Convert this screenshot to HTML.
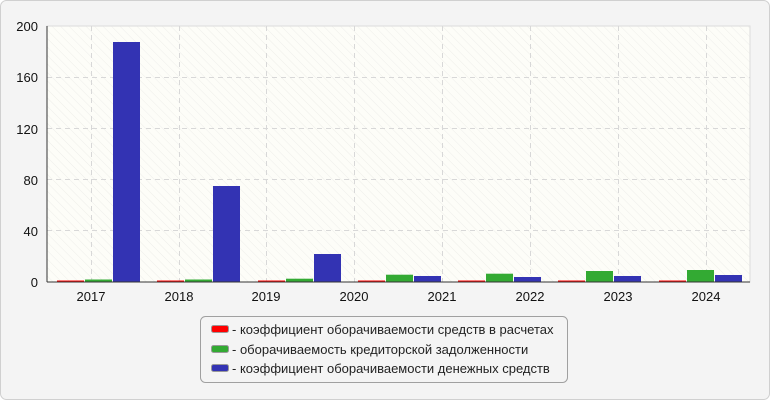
<!DOCTYPE html><html><head><meta charset="utf-8"><style>
body{margin:0;background:#fff}
</style></head><body>
<svg width="770" height="400" xmlns="http://www.w3.org/2000/svg" font-family="Liberation Sans, DejaVu Sans, sans-serif">
<defs><pattern id="h" width="6" height="6" patternUnits="userSpaceOnUse" patternTransform="rotate(-45)"><rect width="6" height="6" fill="#fdfdf8"/><line x1="0" y1="0" x2="0" y2="6" stroke="#eeeeea" stroke-width="1"/></pattern></defs>
<rect x="0.5" y="0.5" width="769" height="399" rx="6" fill="#f4f4f4" stroke="#d0d0d0"/>
<rect x="47" y="26" width="703" height="256" fill="url(#h)" stroke="#dcdcdc"/>
<g stroke="#d8d8d8" stroke-dasharray="5,4">
<line x1="47" x2="750" y1="77.5" y2="77.5"/><line x1="47" x2="750" y1="128.5" y2="128.5"/><line x1="47" x2="750" y1="179.5" y2="179.5"/><line x1="47" x2="750" y1="230.5" y2="230.5"/>
<line x1="91.5" x2="91.5" y1="26" y2="282"/><line x1="179.5" x2="179.5" y1="26" y2="282"/><line x1="266.5" x2="266.5" y1="26" y2="282"/><line x1="354.5" x2="354.5" y1="26" y2="282"/><line x1="442.5" x2="442.5" y1="26" y2="282"/><line x1="530.5" x2="530.5" y1="26" y2="282"/><line x1="618.5" x2="618.5" y1="26" y2="282"/><line x1="706.5" x2="706.5" y1="26" y2="282"/>
</g>
<g fill="#ff0000">
<rect x="57" y="280.5" width="27" height="1.5"/><rect x="157" y="280.5" width="27" height="1.5"/><rect x="258" y="280.5" width="27" height="1.5"/><rect x="358" y="280.5" width="27" height="1.5"/><rect x="458" y="280.5" width="27" height="1.5"/><rect x="558" y="280.5" width="27" height="1.5"/><rect x="659" y="280.5" width="27" height="1.5"/></g>
<g fill="#33aa33">
<rect x="85" y="279.5" width="27" height="2.5"/><rect x="185" y="279.5" width="27" height="2.5"/><rect x="286" y="278.7" width="27" height="3.3"/><rect x="386" y="274.7" width="27" height="7.3"/><rect x="486" y="273.7" width="27" height="8.3"/><rect x="586" y="271" width="27" height="11"/><rect x="687" y="270" width="27" height="12"/></g>
<g fill="#3333b3">
<rect x="113" y="42" width="27" height="240"/><rect x="213" y="186" width="27" height="96"/><rect x="314" y="254" width="27" height="28"/><rect x="414" y="276" width="27" height="6"/><rect x="514" y="277" width="27" height="5"/><rect x="614" y="276" width="27" height="6"/><rect x="715" y="275" width="27" height="7"/></g>
<line x1="47" x2="750" y1="282" y2="282" stroke="#333"/>
<line x1="47" x2="47" y1="26" y2="282" stroke="#333"/>
<g font-size="13" fill="#111" text-anchor="end">
<text x="38" y="287">0</text><text x="38" y="236">40</text><text x="38" y="185">80</text><text x="38" y="134">120</text><text x="38" y="82">160</text><text x="38" y="31">200</text></g>
<g font-size="13" fill="#111" text-anchor="middle">
<text x="91" y="301">2017</text><text x="179" y="301">2018</text><text x="266" y="301">2019</text><text x="354" y="301">2020</text><text x="442" y="301">2021</text><text x="530" y="301">2022</text><text x="618" y="301">2023</text><text x="706" y="301">2024</text></g>
<rect x="200.5" y="316.5" width="367" height="66" rx="5" fill="#f4f4f4" stroke="#a0a0a0"/>
<rect x="211.5" y="325.5" width="17" height="7" rx="2" fill="#ff0000" stroke="#999"/>
<rect x="211.5" y="345.5" width="17" height="7" rx="2" fill="#33aa33" stroke="#999"/>
<rect x="211.5" y="364.5" width="17" height="7" rx="2" fill="#3333b3" stroke="#999"/>
<g font-size="13" fill="#222">
<text x="232" y="334">- коэффициент оборачиваемости средств в расчетах</text>
<text x="232" y="354">- оборачиваемость кредиторской задолженности</text>
<text x="232" y="373">- коэффициент оборачиваемости денежных средств</text></g>
</svg>
</body></html>
